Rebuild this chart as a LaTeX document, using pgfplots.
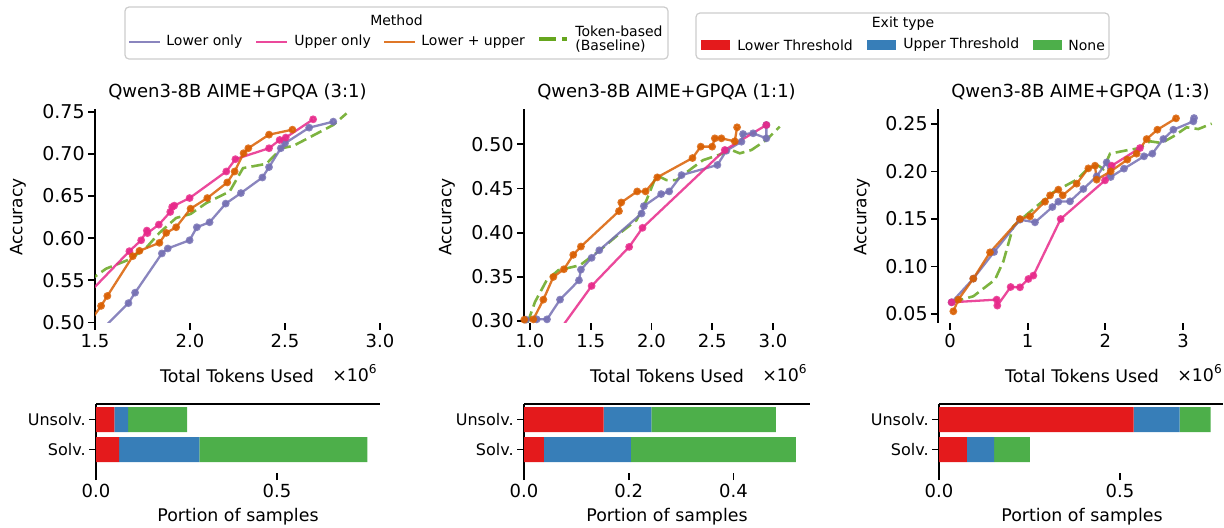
\documentclass[border=0pt]{standalone}
\usepackage{fontspec}
\setmainfont{DejaVu Sans}
\usepackage{pgfplots}
\pgfplotsset{compat=1.18}

\definecolor{cLow}{HTML}{7570B3}
\definecolor{cUp}{HTML}{E7298A}
\definecolor{cBoth}{HTML}{D95F02}
\definecolor{cTok}{HTML}{66A61E}
\definecolor{exRed}{HTML}{E41A1C}
\definecolor{exBlue}{HTML}{377EB8}
\definecolor{exGreen}{HTML}{4DAF4A}

\newcommand\fs[1]{\fontsize{#1}{#1}\selectfont}

\pgfplotsset{
  base/.style={
    scale only axis, anchor=south west,
    axis lines=left,
    axis line style={-, line width=1pt},
    x axis line style={draw=none},
    tick align=outside,
    major tick length=3.5pt,
    tick style={black, line width=0.9pt},
    ticklabel style={font=\fs{9}},
    yticklabel style={inner sep=1.5pt},
    xticklabel style={inner sep=2pt},
  },
  top/.style={base, width=142.5pt, height=106.75pt,
    yticklabel style={font=\fs{9.5}}},
  bars/.style={base, xbar stacked, bar width=12.5pt, height=34.5pt,
    ymin=-0.783, ymax=1.517, ytick={0,1}, yticklabels={Solv.,Unsolv.},
    yticklabel style={font=\fs{8}}, clip=false},
  lo/.style={color=cLow, line width=1.15pt, opacity=0.85, mark=*, mark size=1.35pt},
  up/.style={color=cUp, line width=1.15pt, opacity=0.85, mark=*, mark size=1.35pt},
  lu/.style={color=cBoth, line width=1.15pt, opacity=0.85, mark=*, mark size=1.35pt},
  tok/.style={color=cTok, line width=1.3pt, opacity=0.85, no marks, dash pattern=on 6pt off 2.6pt},
}

\begin{document}
\begin{tikzpicture}
\useasboundingbox (0,0) rectangle (612pt,-263.5pt);

% ---------- top row ----------
\begin{axis}[top, at={(47.5pt,-161.25pt)},
  xmin=1.5, xmax=3.0, ymin=0.5, ymax=0.7532,
  xtick={1.5,2.0,2.5,3.0}, xticklabels={1.5,2.0,2.5,3.0},
  ytick={0.5,0.55,0.6,0.65,0.7,0.75}, yticklabels={0.50,0.55,0.60,0.65,0.70,0.75}]
\addplot[tok] coordinates {(1.46,0.548) (1.558,0.5638) (1.681,0.5748) (1.769,0.5886) (1.839,0.6063) (1.927,0.624) (2.003,0.6287) (2.086,0.6417) (2.209,0.6555) (2.279,0.6831) (2.402,0.6882) (2.481,0.7067) (2.543,0.7094) (2.754,0.7343) (2.824,0.748)};
\addplot[lo] coordinates {(1.52,0.488) (1.676,0.523) (1.711,0.5354) (1.852,0.5819) (1.883,0.5878) (1.998,0.5976) (2.036,0.613) (2.103,0.6189) (2.188,0.641) (2.268,0.6535) (2.381,0.672) (2.416,0.6843) (2.478,0.7067) (2.500,0.7126) (2.627,0.7311) (2.754,0.7382)};
\addplot[up] coordinates {(1.46,0.533) (1.681,0.5846) (1.743,0.5976) (1.773,0.609) (1.776,0.606) (1.836,0.6161) (1.896,0.6311) (1.906,0.637) (1.917,0.6386) (1.998,0.6476) (2.191,0.6791) (2.239,0.6937) (2.416,0.7067) (2.472,0.7165) (2.504,0.7193) (2.648,0.741)};
\addplot[lu] coordinates {(1.47,0.5) (1.532,0.5197) (1.565,0.5315) (1.699,0.5787) (1.734,0.585) (1.839,0.5945) (1.875,0.6063) (1.927,0.613) (2.003,0.635) (2.091,0.6476) (2.196,0.6661) (2.235,0.6791) (2.282,0.7008) (2.307,0.7067) (2.416,0.7228) (2.539,0.7287)};
\end{axis}

\begin{axis}[top, at={(262pt,-161.25pt)},
  xmin=0.9506, xmax=3.296, ymin=0.2983, ymax=0.54,
  xtick={1.0,1.5,2.0,2.5,3.0}, xticklabels={1.0,1.5,2.0,2.5,3.0},
  ytick={0.3,0.35,0.4,0.45,0.5}, yticklabels={0.30,0.35,0.40,0.45,0.50}]
\addplot[tok] coordinates {(0.98,0.298) (1.041,0.3216) (1.137,0.3461) (1.233,0.3575) (1.411,0.3631) (1.575,0.3801) (1.753,0.4009) (1.877,0.4142) (1.959,0.4369) (2.041,0.4652) (2.123,0.4595) (2.205,0.4595) (2.342,0.4739) (2.425,0.4822) (2.575,0.489) (2.658,0.4936) (2.726,0.4898) (2.822,0.4936) (2.945,0.5049) (3.055,0.52)};
\addplot[lo] coordinates {(0.967,0.3015) (1.055,0.3019) (1.140,0.3019) (1.247,0.3242) (1.403,0.3461) (1.419,0.3582) (1.507,0.3715) (1.570,0.3801) (1.918,0.4217) (1.937,0.4301) (2.079,0.4437) (2.145,0.4467) (2.247,0.4652) (2.542,0.4766) (2.616,0.4928) (2.740,0.503) (2.753,0.5117) (2.836,0.5125) (2.945,0.5068) (2.945,0.5219)};
\addplot[up] coordinates {(1.23,0.287) (1.507,0.3397) (1.816,0.3839) (1.926,0.4055) (2.603,0.4936) (2.945,0.5219)};
\addplot[lu] coordinates {(0.953,0.3015) (1.027,0.3019) (1.110,0.3242) (1.192,0.3499) (1.279,0.3586) (1.356,0.3749) (1.419,0.3843) (1.732,0.4244) (1.751,0.4342) (1.882,0.4467) (1.951,0.4467) (2.047,0.4626) (2.337,0.4845) (2.405,0.4974) (2.499,0.4974) (2.521,0.5068) (2.575,0.5068) (2.685,0.5034) (2.704,0.5193)};
\end{axis}

\begin{axis}[top, at={(469pt,-161.25pt)},
  xmin=-0.1545, xmax=3.515, ymin=0.041, ymax=0.2658,
  xtick={0,1,2,3}, xticklabels={0,1,2,3},
  ytick={0.05,0.1,0.15,0.2,0.25}, yticklabels={0.05,0.10,0.15,0.20,0.25}]
\addplot[tok] coordinates {(0.021,0.0623) (0.300,0.0686) (0.579,0.0861) (0.687,0.1054) (0.815,0.1423) (0.987,0.1546) (1.330,0.1781) (1.631,0.1914) (1.781,0.2037) (1.910,0.2061) (1.974,0.2026) (2.060,0.2188) (2.275,0.2223) (2.446,0.2247) (2.575,0.2318) (2.725,0.23) (2.876,0.237) (3.047,0.2465) (3.197,0.2447) (3.369,0.2504)};
\addplot[lo] coordinates {(0.021,0.0623) (0.300,0.0872) (0.567,0.1153) (0.901,0.1493) (1.094,0.1465) (1.318,0.1626) (1.395,0.1682) (1.545,0.1686) (1.717,0.1816) (1.888,0.1949) (2.017,0.2096) (2.069,0.1942) (2.240,0.203) (2.498,0.216) (2.605,0.2188) (2.747,0.2342) (2.876,0.244) (3.133,0.2528) (3.142,0.2563)};
\addplot[up] coordinates {(0.021,0.0623) (0.601,0.0651) (0.609,0.0588) (0.781,0.0784) (0.901,0.0781) (1.009,0.0868) (1.073,0.0904) (1.425,0.15) (1.996,0.1907) (2.082,0.2061) (2.446,0.2247)};
\addplot[lu] coordinates {(0.043,0.0528) (0.107,0.0651) (0.300,0.0872) (0.515,0.1149) (0.901,0.15) (1.030,0.1528) (1.223,0.1682) (1.288,0.1749) (1.395,0.1809) (1.451,0.1749) (1.631,0.1872) (1.781,0.2033) (1.867,0.2061) (1.888,0.1914) (2.069,0.2002) (2.283,0.2125) (2.403,0.2188) (2.532,0.2342) (2.670,0.244) (2.910,0.256)};
\end{axis}

% ---------- bottom row ----------
\begin{axis}[bars, at={(48pt,-236.5pt)}, width=142pt,
  xmin=0, xmax=0.785, xtick={0,0.5}, xticklabels={0.0,0.5}]
\addplot[fill=exRed, draw=none] coordinates {(0.064,0) (0.051,1)};
\addplot[fill=exBlue, draw=none] coordinates {(0.222,0) (0.038,1)};
\addplot[fill=exGreen, draw=none] coordinates {(0.464,0) (0.163,1)};
\draw[line width=1pt] (rel axis cs:0,1) -- (rel axis cs:1,1);
\end{axis}

\begin{axis}[bars, at={(262pt,-236.5pt)}, width=143pt,
  xmin=0, xmax=0.546, xtick={0,0.2,0.4}, xticklabels={0.0,0.2,0.4}]
\addplot[fill=exRed, draw=none] coordinates {(0.038,0) (0.152,1)};
\addplot[fill=exBlue, draw=none] coordinates {(0.166,0) (0.091,1)};
\addplot[fill=exGreen, draw=none] coordinates {(0.315,0) (0.238,1)};
\draw[line width=1pt] (rel axis cs:0,1) -- (rel axis cs:1,1);
\end{axis}

\begin{axis}[bars, at={(469.5pt,-236.5pt)}, width=142pt,
  xmin=0, xmax=0.785, xtick={0,0.5}, xticklabels={0.0,0.5}]
\addplot[fill=exRed, draw=none] coordinates {(0.077,0) (0.538,1)};
\addplot[fill=exBlue, draw=none] coordinates {(0.075,0) (0.127,1)};
\addplot[fill=exGreen, draw=none] coordinates {(0.099,0) (0.086,1)};
\draw[line width=1pt] (rel axis cs:0,1) -- (rel axis cs:1,1);
\end{axis}

% ---------- texts and legends (pixel grid of the reference) ----------
\begin{scope}[x=0.5pt, y=-0.5pt]
\foreach \cx/\t in {237.5/{(3:1)}, 666.5/{(1:1)}, 1080.5/{(1:3)}}
  \node[font=\fs{9}, inner sep=0] at (\cx,92) {Qwen3-8B AIME+GPQA \t};
\foreach \cx in {18,447,862}
  \node[font=\fs{8.5}, inner sep=0, rotate=90] at (\cx,217) {Accuracy};
\foreach \cx in {237,667,1082}
  \node[font=\fs{8.7}, inner sep=0] at (\cx,376) {Total Tokens Used};
\foreach \cx in {355,785,1200}
  \node[font=\fs{8.7}, inner sep=0] at (\cx,373) {×10\textsuperscript{6}};
\foreach \cx in {238,667,1082}
  \node[font=\fs{8.7}, inner sep=0] at (\cx,517) {Portion of samples};

% Method legend
\draw[draw=black!20, line width=0.6pt, rounded corners=2pt] (125,7) rectangle (668,59);
\node[font=\fs{7}, inner sep=0] at (396.5,20) {Method};
\draw[cLow, line width=1.3pt, opacity=0.85] (129,42) -- (160,42);
\node[font=\fs{7}, inner sep=0, anchor=west] at (166,42) {Lower only};
\draw[cUp, line width=1.3pt, opacity=0.85] (256,42) -- (287,42);
\node[font=\fs{7}, inner sep=0, anchor=west] at (294,42) {Upper only};
\draw[cBoth, line width=1.3pt, opacity=0.85] (384,42) -- (415,42);
\node[font=\fs{7}, inner sep=0, anchor=west] at (421,42) {Lower + upper};
\draw[cTok, line width=1.8pt, dash pattern=on 8.5pt off 3pt] (539,39) -- (567,39);
\node[font=\fs{7}, inner sep=0, anchor=west, align=left] at (575,39) {Token-based\\(Baseline)};

% Exit type legend
\draw[draw=black!20, line width=0.6pt, rounded corners=2pt] (696,13) rectangle (1109,59);
\node[font=\fs{7}, inner sep=0] at (903,24) {Exit type};
\fill[exRed] (701,40) rectangle (730,50);
\node[font=\fs{7}, inner sep=0, anchor=west] at (737,45) {Lower Threshold};
\fill[exBlue] (867,40) rectangle (896,50);
\node[font=\fs{7}, inner sep=0, anchor=west] at (903,45) {Upper Threshold};
\fill[exGreen] (1033,40) rectangle (1062,50);
\node[font=\fs{7}, inner sep=0, anchor=west] at (1068,45) {None};
\end{scope}
\end{tikzpicture}
\end{document}
